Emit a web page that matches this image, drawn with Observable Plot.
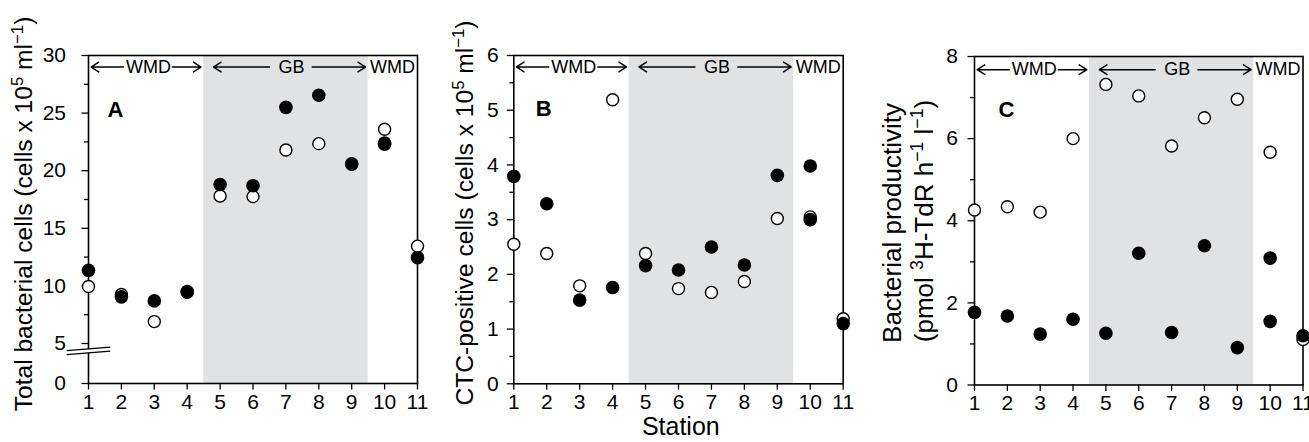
<!DOCTYPE html>
<html><head><meta charset="utf-8">
<script src="https://cdn.jsdelivr.net/npm/d3@7"></script>
<script src="https://cdn.jsdelivr.net/npm/@observablehq/plot@0.6"></script>
<style>
body{margin:0;background:#fff;overflow:hidden;}
#wrap{position:relative;width:1309px;height:442px;font-family:"Liberation Sans",Arial,Helvetica,sans-serif;}
#wrap svg{position:absolute;top:0;overflow:visible;}
</style></head><body><div id="wrap"></div>
<script>
// ---- data ----
const stations = [1, 2, 3, 4, 5, 6, 7, 8, 9, 10, 11];
// Panel A: total bacterial cells (x10^5 ml^-1)
const totalFilled = [11.35, 9.05, 8.7, 9.5, 18.8, 18.7, 25.5, 26.55, 20.6, 22.4, 12.45];
const totalOpen   = [9.95, 9.25, 6.9, 9.45, 17.8, 17.75, 21.8, 22.35, 20.55, 23.6, 13.45];
// Panel B: CTC-positive cells (x10^5 ml^-1)
const ctcFilled = [3.79, 3.29, 1.53, 1.76, 2.16, 2.08, 2.50, 2.17, 3.81, 3.98, 1.10];
const ctcOpen   = [2.55, 2.38, 1.79, 5.19, 2.38, 1.74, 1.67, 1.87, 3.02, 3.05, 1.19];
// Panel C: bacterial productivity (pmol 3H-TdR h^-1 l^-1)
const prodFilled = [1.77, 1.68, 1.24, 1.60, 1.26, 3.21, 1.28, 3.39, 0.91, 3.09, 1.20];
const prodOpen   = [4.26, 4.34, 4.21, 6.00, 7.32, 7.04, 5.82, 6.51, 6.96, 5.67, 1.11];
// second filled sample at station 10
const extraStation = [10];
const totalExtra = [22.3];
const ctcExtra = [3.0];
const prodExtra = [1.55];
// regions
const gbStart = 4.5, gbEnd = 9.5;
const regionLabels = ["WMD", "GB", "WMD"];
const regionLabelX = [2.82, 7.17, 10.24];
const arrowFrom = [2.06, 3.55, 6.5, 7.8];
const arrowTo   = [1.08, 4.42, 4.8, 9.42];
// y ticks
const ticksA = [0, 5, 10, 15, 20, 25, 30];
const minorA = [7.5, 12.5, 17.5, 22.5, 27.5];
const ticksB = [0, 1, 2, 3, 4, 5, 6];
const minorB = [0.5, 1.5, 2.5, 3.5, 4.5, 5.5];
const ticksC = [0, 2, 4, 6, 8];
const minorC = [1, 3, 5, 7];
// axis break of panel A: 0–5 compressed
const breakAt = 5, breakRatio = 8 / 11.52;

const FONT = '"Liberation Sans", Arial, Helvetica, sans-serif';
const rowsOf = (vals, xs = stations) => xs.map((s, i) => ({station: s, value: vals[i]}));
const ident = v => v;
const brokenA = v => (v >= breakAt ? v : breakAt - (breakAt - v) * breakRatio);
const unbrokenA = v => (v >= breakAt ? v : breakAt - (breakAt - v) / breakRatio);

function makePanel(cfg) {
  const fwd = cfg.fwd || ident, inv = cfg.inv || ident;
  const Y = d => fwd(d.value);
  const fmt = d => String(Math.round(inv(d) * 10) / 10);
  const ann = regionLabels.map((t, i) => ({t, x: regionLabelX[i], value: cfg.annotY}));
  const arr = arrowFrom.map((a, i) => ({x1: a, x2: arrowTo[i], value: cfg.annotY}));
  const marks = [
    Plot.rect([{x1: gbStart, x2: gbEnd}], {x1: "x1", x2: "x2", fill: "#e1e2e4"}),
    Plot.axisX({ticks: stations, tickSize: 6.5, tickPadding: 4, strokeWidth: 1.3, label: null, fontSize: 21, tickFormat: String}),
    Plot.axisY({ticks: cfg.majors.map(fwd), tickSize: 6.5, tickPadding: cfg.tp, strokeWidth: 1.3, label: null, fontSize: 21, tickFormat: fmt}),
    Plot.axisY({ticks: cfg.minors.map(fwd), tickSize: 4, tickFormat: () => "", strokeWidth: 1.3, label: null}),
    Plot.frame({stroke: "black", strokeWidth: 1.6}),
    Plot.arrow(arr, {x1: "x1", x2: "x2", y1: Y, y2: Y, stroke: "black", strokeWidth: 1.5, headLength: 9, headAngle: 65}),
    Plot.text(ann, {x: "x", y: Y, text: "t", fontSize: 18, fill: "black"}),
    Plot.dot(rowsOf(cfg.open), {x: "station", y: Y, r: 6, fill: "white", stroke: "black", strokeWidth: 1.4}),
    Plot.dot(rowsOf(cfg.filled), {x: "station", y: Y, r: 6.8, fill: "black"}),
    Plot.dot(rowsOf(cfg.extra, extraStation), {x: "station", y: Y, r: 6.8, fill: "black"}),
    Plot.text([cfg.letter], {frameAnchor: "top-left", dx: cfg.ldx, dy: cfg.ldy, fontWeight: "bold", fontSize: 22, fill: "black"})
  ];
  if (cfg.brk) {
    const b = cfg.brk;
    const f = k => d => fwd(d[k]);
    marks.push(
      Plot.link([b], {x1: "x1", x2: "x2", y1: f("m1"), y2: f("m2"), stroke: "white", strokeWidth: 3.2}),
      Plot.link([b], {x1: "x1", x2: "x2", y1: f("u1"), y2: f("u2"), stroke: "black", strokeWidth: 1.3}),
      Plot.link([b], {x1: "x1", x2: "x2", y1: f("l1"), y2: f("l2"), stroke: "black", strokeWidth: 1.3})
    );
  }
  const svg = Plot.plot({
    width: cfg.width, height: 442,
    marginLeft: cfg.ml, marginRight: cfg.mr, marginTop: cfg.mt, marginBottom: cfg.mb,
    style: {fontFamily: FONT, fontSize: "21px", background: "transparent", overflow: "visible", color: "black"},
    x: {domain: [1, 11], label: null},
    y: {domain: cfg.yDomain.map(fwd), range: cfg.yRange, label: null},
    marks
  });
  svg.style.left = cfg.left + "px";
  document.getElementById("wrap").appendChild(svg);
  const s = d3.select(svg);
  cfg.labels.forEach(L => {
    const t = s.append("text")
      .attr("transform", `translate(${L.x},${L.y}) rotate(-90)`)
      .attr("text-anchor", "middle")
      .attr("font-family", FONT)
      .attr("font-size", L.size)
      .attr("fill", "black");
    L.parts.forEach(p => {
      const ts = t.append("tspan").text(p[0]);
      if (p[1] === "sup") ts.attr("baseline-shift", "super").attr("font-size", "68%");
    });
  });
  return svg;
}

// Panel A
makePanel({
  left: 0, width: 440, ml: 88, mr: 23, mt: 55, mb: 59,
  yDomain: [0, 30], yRange: [383, 55], fwd: brokenA, inv: unbrokenA,
  majors: ticksA, minors: minorA, tp: 16,
  filled: totalFilled, open: totalOpen, extra: totalExtra,
  annotY: 29.0, letter: "A", ldx: 19, ldy: 46,
  brk: {x1: 0.34, x2: 1.66, u1: 4.12, u2: 4.54, l1: 3.62, l2: 4.04, m1: 3.87, m2: 4.29},
  labels: [{x: 32, y: 214, size: 24.6, parts: [["Total bacterial cells (cells x 10"], ["5", "sup"], [" ml"], ["\u22121", "sup"], [")"]]}]
});
// Panel B
makePanel({
  left: 440, width: 430, ml: 73.3, mr: 27.3, mt: 55, mb: 58.7,
  yDomain: [0, 6], yRange: [383.3, 55],
  majors: ticksB, minors: minorB, tp: 8.5,
  filled: ctcFilled, open: ctcOpen, extra: ctcExtra,
  annotY: 5.79, letter: "B", ldx: 22, ldy: 45,
  labels: [{x: 32.5, y: 213, size: 24.6, parts: [["CTC-positive cells (cells x 10"], ["5", "sup"], [" ml"], ["\u22121", "sup"], [")"]]}]
});
const svgB = document.querySelectorAll("#wrap svg")[1];
d3.select(svgB).append("text").attr("x", 240.8).attr("y", 435).attr("text-anchor", "middle")
  .attr("font-family", FONT).attr("font-size", 25).attr("fill", "black").text("Station");
// Panel C
makePanel({
  left: 870, width: 439, ml: 104, mr: 6.5, mt: 56, mb: 57.5,
  yDomain: [0, 8], yRange: [384.5, 56],
  majors: ticksC, minors: minorC, tp: 10,
  filled: prodFilled, open: prodOpen, extra: prodExtra,
  annotY: 7.68, letter: "C", ldx: 24, ldy: 45,
  labels: [
    {x: 30.5, y: 223, size: 26, parts: [["Bacterial productivity"]]},
    {x: 63, y: 221, size: 26, parts: [["(pmol "], ["3", "sup"], ["H-TdR h"], ["\u22121", "sup"], [" l"], ["\u22121", "sup"], [")"]]}
  ]
});
</script></body></html>
